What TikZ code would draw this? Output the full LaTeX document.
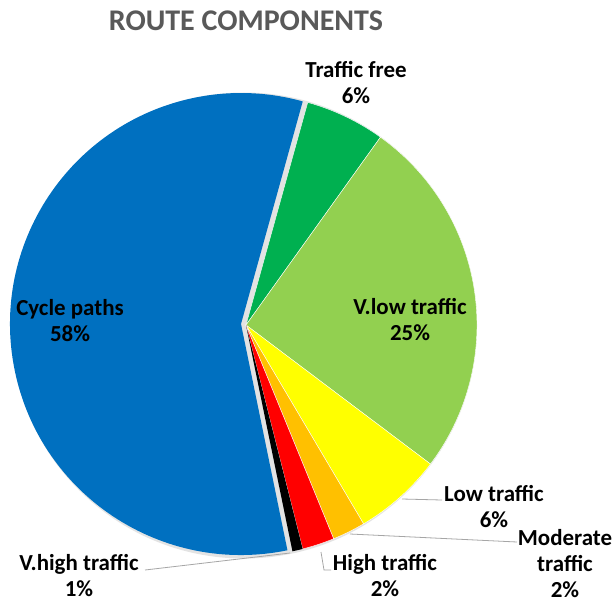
\documentclass[tikz,border=0pt]{standalone}
\usepackage{fontspec}
\setmainfont{Carlito}
\definecolor{cblue}{HTML}{0070C0}
\definecolor{cgreen}{HTML}{00B050}
\definecolor{clgreen}{HTML}{92D050}
\definecolor{cyellow}{HTML}{FFFF00}
\definecolor{corange}{HTML}{FFC000}
\definecolor{cred}{HTML}{FF0000}
\definecolor{ctitle}{HTML}{595959}
\definecolor{cleader}{HTML}{A6A6A6}
\tikzset{
  lbl/.style={font=\bfseries\fontsize{17.2}{19.5}\selectfont, align=center, inner sep=0pt, text=black},
  ttl/.style={font=\bfseries\fontsize{22.5}{26}\selectfont, text=ctitle, inner sep=0pt},
  leader/.style={draw=cleader, line width=0.6pt},
  slice/.style={draw=white, line width=0.3pt}
}
\begin{document}
\begin{tikzpicture}[x=0.75pt,y=0.75pt]
\useasboundingbox (0,0) rectangle (613,601);
\fill[white] (0,0) rectangle (613,601);
\def\R{231}
\coordinate (c) at (246,276);
\coordinate (cb) at (241,277);
% shadow / gap
\fill[gray!22] (244,275.5) circle (233);
% slices
\fill[cgreen,slice] (c) -- ++(74.5:\R) arc[start angle=74.5,end angle=54.4,radius=\R] -- cycle;
\fill[clgreen,slice] (c) -- ++(54.4:\R) arc[start angle=54.4,end angle=-37,radius=\R] -- cycle;
\fill[cyellow,slice] (c) -- ++(-37:\R) arc[start angle=-37,end angle=-59.4,radius=\R] -- cycle;
\fill[corange,slice] (c) -- ++(-59.4:\R) arc[start angle=-59.4,end angle=-67.7,radius=\R] -- cycle;
\fill[cred,slice] (c) -- ++(-67.7:\R) arc[start angle=-67.7,end angle=-75.8,radius=\R] -- cycle;
\fill[black] (c) -- ++(-75.8:\R) arc[start angle=-75.8,end angle=-78.4,radius=\R] -- cycle;
\fill[cblue] (cb) -- ++(-78.4:\R) arc[start angle=-78.4,end angle=-285.5,radius=\R] -- cycle;
% title
\node[ttl] (title) at (246,580) {ROUTE COMPONENTS};
% labels
\node[lbl] (tf) at (356,518) {Traffic free\\6\%};
\node[lbl] (vl) at (410,281) {V.low traffic\\25\%};
\node[lbl] (cp) at (70,280) {Cycle paths\\58\%};
\node[lbl] (lt) at (494,94) {Low traffic\\6\%};
\node[lbl] (mt) at (565,37) {Moderate\\traffic\\2\%};
\node[lbl] (ht) at (385,25) {High traffic\\2\%};
\node[lbl] (vh) at (79,25) {V.high traffic\\1\%};
% leader lines
\coordinate (ltA) at (402,102);
\coordinate (ltB) at (442,101);
\coordinate (mtA) at (350,67);
\coordinate (mtB) at (517,59);
\coordinate (htA) at (321,49);
\coordinate (htB) at (324,31);
\coordinate (htC) at (331,31);
\coordinate (vhA) at (290,48);
\coordinate (vhB) at (145,31);
\draw[leader] (ltA) -- (ltB);
\draw[leader] (mtA) -- (mtB);
\draw[leader] (htA) -- (htB) -- (htC);
\draw[leader] (vhA) -- (vhB);
\end{tikzpicture}
\end{document}
